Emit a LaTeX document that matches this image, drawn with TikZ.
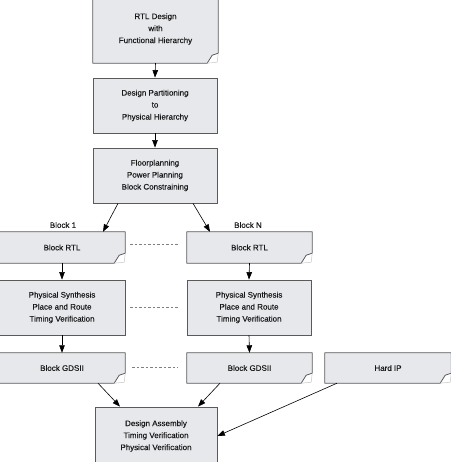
\documentclass[tikz,border=0pt]{standalone}
\usepackage{fontspec}
\setmainfont{Liberation Sans}
\newfontfamily\boxfont{Liberation Sans}[FakeBold=0.35]
\usetikzlibrary{arrows.meta,backgrounds}
\definecolor{boxfill}{HTML}{E6E8EC}
\definecolor{boxline}{HTML}{5A5A5A}
\definecolor{txt}{HTML}{1A1A1A}
\tikzset{
  basebox/.style={rectangle, inner sep=0pt, align=center, text=txt,
    font=\boxfont\fontsize{8}{12}\selectfont},
  plainbox/.style={basebox, draw=boxline, fill=boxfill, line width=0.8pt},
  docbox/.style={basebox},
  conn/.style={-{Triangle[length=7.5pt,width=5.5pt]}, line width=0.6pt, black},
  dashconn/.style={gray, line width=0.5pt, dash pattern=on 2.5pt off 2pt},
  blocklabel/.style={font=\boxfont\fontsize{8}{10}\selectfont, text=txt, inner sep=0pt}
}
\newcommand\mydocshape[1]{%
  \filldraw[fill=boxfill, draw=boxline, line width=0.8pt, line join=round]
    (#1.south west) -- (#1.north west) -- (#1.north east)
    -- ([yshift=10pt]#1.south east)
    -- ([xshift=-6pt,yshift=8pt]#1.south east)
    -- ([xshift=-11pt]#1.south east) -- cycle;
  \draw[gray!45, line width=0.5pt]
    ([xshift=-11pt]#1.south east) -- ([xshift=-1pt,yshift=1pt]#1.south east)
    -- ([yshift=10pt]#1.south east);
}
\begin{document}
\begin{tikzpicture}[x=1pt,y=-1pt]
\useasboundingbox (0,0) rectangle (450,462);
\clip (0,0) rectangle (450,462);
% top column
\node[docbox, minimum width=125pt, minimum height=68pt] (b1) at (155.5,29)
  {RTL Design\\with\\Functional Hierarchy};
\node[plainbox, minimum width=124pt, minimum height=55pt] (b2) at (155,105.5)
  {Design Partitioning\\to\\Physical Hierarchy};
\node[plainbox, minimum width=124pt, minimum height=55pt] (b3) at (155,175.5)
  {Floorplanning\\Power Planning\\Block Constraining};
% block columns
\node[docbox, minimum width=126pt, minimum height=31pt] (rtl1) at (62,247.5) {Block RTL};
\node[docbox, minimum width=125pt, minimum height=31pt] (rtlN) at (249.5,247.5) {Block RTL};
\node[plainbox, minimum width=126pt, minimum height=55pt] (ps1) at (62,307.5)
  {Physical Synthesis\\Place and Route\\Timing Verification};
\node[plainbox, minimum width=124pt, minimum height=55pt] (psN) at (249,307.5)
  {Physical Synthesis\\Place and Route\\Timing Verification};
\node[docbox, minimum width=126pt, minimum height=30pt] (gds1) at (62,368) {Block GDSII};
\node[docbox, minimum width=125pt, minimum height=30pt] (gdsN) at (249.5,368) {Block GDSII};
\node[docbox, minimum width=126pt, minimum height=30pt] (hip) at (388,368) {Hard IP};
\node[plainbox, minimum width=122pt, minimum height=58pt] (fin) at (156,436)
  {Design Assembly\\Timing Verification\\Physical Verification};
% labels
\node[blocklabel] (l1) at (63,225) {Block 1};
\node[blocklabel] (lN) at (248,225) {Block N};
% document shapes
\begin{pgfonlayer}{background}
  \mydocshape{b1}
  \mydocshape{rtl1}
  \mydocshape{rtlN}
  \mydocshape{gds1}
  \mydocshape{gdsN}
  \mydocshape{hip}
\end{pgfonlayer}
% connectors
\draw[conn] (b1.south) -- (b2.north);
\draw[conn] (b2.south) -- (b3.north);
\draw[conn] ([xshift=-37pt]b3.south) -- ([xshift=41pt]rtl1.north);
\draw[conn] ([xshift=38pt]b3.south) -- ([xshift=-39.5pt]rtlN.north);
\draw[conn] (rtl1.south) -- (ps1.north);
\draw[conn] (ps1.south) -- (gds1.north);
\draw[conn] (rtlN.south) -- (psN.north);
\draw[conn] (psN.south) -- (gdsN.north);
\draw[conn] ([xshift=36pt]gds1.south) -- ([xshift=-36pt]fin.north);
\draw[conn] ([xshift=-29.5pt]gdsN.south) -- ([xshift=42pt]fin.north);
\draw[conn] ([xshift=-51pt]hip.south) -- (fin.east);
% dashed links
\draw[dashconn] ([xshift=5pt,yshift=3pt]rtl1.east) -- ([xshift=-9pt,yshift=3pt]rtlN.west);
\draw[dashconn] ([xshift=5pt]ps1.east) -- ([xshift=-9pt]psN.west);
\draw[dashconn] ([xshift=7pt,yshift=1pt]gds1.east) -- ([xshift=-9pt,yshift=1pt]gdsN.west);
\end{tikzpicture}
\end{document}
